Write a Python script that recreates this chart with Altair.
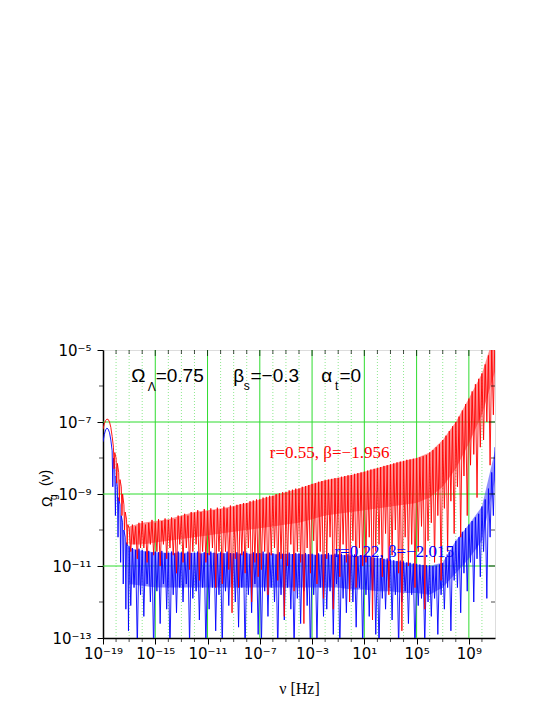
import altair as alt
import pandas as pd

# ---------------- data (log10 values) ----------------
# steep low-frequency part, (log10 nu, log10 Omega)
red_head_x = [-19.0, -18.9, -18.8, -18.7, -18.6, -18.5, -18.4, -18.3, -18.2, -18.15, -18.1, -18.0, -17.95,
              -17.9, -17.8, -17.75, -17.7, -17.6, -17.55, -17.5, -17.4, -17.35, -17.3, -17.2, -17.15, -17.1]
red_head_y = [-7.20, -7.05, -6.96, -6.92, -6.93, -7.0, -7.15, -7.4, -7.7, -8.3, -7.85, -8.0, -8.7,
              -8.15, -8.4, -9.2, -8.6, -8.8, -9.6, -9.0, -9.3, -10.0, -9.5, -9.7, -10.4, -9.85]
blue_head_x = [-19.0, -18.9, -18.8, -18.7, -18.6, -18.5, -18.4, -18.3, -18.25, -18.2, -18.1, -18.05, -18.0,
               -17.9, -17.85, -17.8, -17.7, -17.65, -17.6, -17.5, -17.45, -17.4, -17.3, -17.25, -17.2, -17.1, -17.05]
blue_head_y = [-7.55, -7.35, -7.22, -7.17, -7.2, -7.3, -7.5, -7.8, -8.8, -8.0, -8.3, -9.6, -8.5,
               -8.8, -10.2, -9.1, -9.3, -10.9, -9.6, -9.8, -11.5, -10.0, -10.2, -12.2, -10.35, -10.45, -12.8]

# oscillating part: per decade (starting at 10^-17), 8 samples each 1/8 decade apart (peak, dip, ...)
decades = list(range(-17, 11))
red_osc = [
    [-9.95, -10.6, -9.85, -10.4, -9.9, -10.8, -9.8, -10.5],
    [-9.75, -10.5, -9.85, -10.9, -9.8, -10.4, -9.72, -10.7],
    [-9.8, -10.6, -9.7, -11.0, -9.75, -10.4, -9.68, -10.8],
    [-9.72, -10.5, -9.65, -10.7, -9.7, -11.2, -9.6, -10.4],
    [-9.62, -10.9, -9.55, -10.5, -9.6, -11.1, -9.5, -10.6],
    [-9.52, -10.4, -9.45, -11.4, -9.5, -10.6, -9.42, -10.9],
    [-9.48, -10.7, -9.4, -10.5, -9.45, -11.6, -9.38, -10.6],
    [-9.42, -11.5, -9.35, -10.6, -9.4, -11.1, -9.32, -12.3],
    [-9.35, -10.8, -9.3, -11.6, -9.28, -10.7, -9.25, -11.2],
    [-9.25, -10.5, -9.2, -12.0, -9.18, -10.9, -9.15, -11.3],
    [-9.15, -11.1, -9.1, -10.6, -9.08, -11.8, -9.05, -10.7],
    [-9.05, -10.5, -9.0, -11.4, -8.98, -10.8, -8.95, -12.4],
    [-8.95, -11.0, -8.9, -10.4, -8.88, -11.7, -8.85, -10.6],
    [-8.85, -10.9, -8.8, -12.6, -8.78, -10.5, -8.75, -11.2],
    [-8.72, -10.3, -8.7, -11.5, -8.66, -10.6, -8.64, -11.9],
    [-8.62, -10.8, -8.6, -10.2, -8.58, -12.2, -8.56, -10.7],
    [-8.55, -11.3, -8.52, -10.4, -8.5, -10.9, -8.48, -12.0],
    [-8.47, -10.3, -8.44, -11.6, -8.42, -10.5, -8.4, -11.0],
    [-8.38, -10.9, -8.35, -10.2, -8.32, -12.5, -8.3, -10.6],
    [-8.28, -10.4, -8.25, -11.3, -8.22, -10.1, -8.2, -11.8],
    [-8.18, -10.7, -8.15, -10.0, -8.12, -11.2, -8.1, -12.8],
    [-8.08, -10.2, -8.05, -11.0, -8.04, -10.4, -8.02, -11.6],
    [-8.0, -10.6, -7.98, -9.9, -7.95, -12.2, -7.92, -10.3],
    [-7.85, -9.8, -7.78, -10.9, -7.7, -9.6, -7.62, -11.4],
    [-7.5, -9.4, -7.38, -10.6, -7.25, -9.2, -7.12, -10.1],
    [-7.0, -8.8, -6.85, -10.2, -6.68, -8.5, -6.5, -9.6],
    [-6.35, -8.2, -6.15, -7.9, -5.95, -9.1, -5.8, -7.7],
    [-5.65, -7.5, -5.4, -7.0, -5.15, -8.2, -4.9, -6.8],
]
blue_osc = [
    [-10.45, -12.1, -10.5, -11.6, -10.55, -13.3, -10.52, -11.8],
    [-10.55, -12.4, -10.6, -11.5, -10.58, -12.0, -10.62, -13.4],
    [-10.6, -11.7, -10.62, -12.6, -10.58, -11.5, -10.64, -12.2],
    [-10.63, -13.5, -10.6, -11.8, -10.65, -12.3, -10.6, -11.6],
    [-10.62, -12.0, -10.66, -11.5, -10.6, -13.2, -10.64, -11.9],
    [-10.63, -11.7, -10.6, -12.5, -10.66, -11.6, -10.62, -13.4],
    [-10.64, -12.2, -10.6, -11.6, -10.63, -12.8, -10.67, -11.8],
    [-10.62, -13.3, -10.65, -11.7, -10.6, -12.1, -10.64, -11.5],
    [-10.65, -12.0, -10.62, -12.7, -10.66, -11.6, -10.6, -13.5],
    [-10.63, -11.8, -10.67, -12.3, -10.62, -11.5, -10.65, -12.9],
    [-10.64, -13.2, -10.6, -11.7, -10.66, -12.4, -10.63, -11.6],
    [-10.65, -12.0, -10.68, -13.4, -10.62, -11.8, -10.66, -12.5],
    [-10.66, -11.6, -10.63, -12.2, -10.67, -13.3, -10.64, -11.9],
    [-10.65, -12.6, -10.68, -11.7, -10.64, -12.1, -10.67, -13.5],
    [-10.66, -11.8, -10.7, -13.2, -10.65, -11.6, -10.68, -12.4],
    [-10.67, -12.2, -10.64, -11.7, -10.69, -12.9, -10.66, -11.5],
    [-10.68, -13.4, -10.66, -11.9, -10.7, -12.3, -10.67, -11.7],
    [-10.7, -12.0, -10.68, -12.7, -10.72, -11.6, -10.7, -13.3],
    [-10.72, -11.8, -10.75, -12.4, -10.73, -11.7, -10.77, -12.9],
    [-10.76, -13.4, -10.78, -11.9, -10.8, -12.2, -10.79, -11.6],
    [-10.82, -12.5, -10.84, -11.8, -10.86, -13.3, -10.85, -12.0],
    [-10.87, -11.7, -10.9, -12.6, -10.91, -11.8, -10.93, -13.5],
    [-10.94, -12.1, -10.96, -11.9, -10.97, -13.2, -10.98, -12.0],
    [-10.98, -12.4, -11.0, -11.9, -10.99, -12.9, -10.96, -11.8],
    [-10.92, -12.2, -10.75, -11.6, -10.6, -12.8, -10.45, -11.4],
    [-10.3, -11.6, -10.2, -12.3, -10.05, -11.2, -9.95, -11.7],
    [-9.85, -10.9, -9.75, -12.0, -9.65, -10.8, -9.55, -11.3],
    [-9.35, -10.6, -9.15, -11.9, -8.85, -10.2, -8.4, -9.6],
]
red_tail = (11.0, -4.5)
blue_tail = (11.0, -7.7)

# dense (filled-looking) band of each curve, at decade starts 10^-17 ... 10^11
band_x = list(range(-17, 12))
red_band_top = [-9.9, -9.8, -9.75, -9.7, -9.6, -9.5, -9.45, -9.4, -9.33, -9.25, -9.15, -9.05, -8.95, -8.85,
                -8.72, -8.62, -8.55, -8.47, -8.38, -8.28, -8.18, -8.08, -8.0, -7.85, -7.5, -7.0, -6.35, -5.65, -4.5]
red_band_bot = [-10.4, -10.4, -10.35, -10.3, -10.25, -10.2, -10.15, -10.1, -10.05, -10.0, -9.95, -9.9, -9.85,
                -9.8, -9.7, -9.6, -9.55, -9.5, -9.45, -9.4, -9.35, -9.3, -9.25, -9.1, -8.8, -8.3, -7.6, -6.8, -5.6]
blue_band_top = [-10.5, -10.58, -10.62, -10.63, -10.63, -10.63, -10.64, -10.64, -10.65, -10.65, -10.65, -10.66,
                 -10.67, -10.67, -10.68, -10.68, -10.69, -10.71, -10.74, -10.78, -10.84, -10.9, -10.96, -11.0,
                 -10.9, -10.3, -9.85, -9.35, -7.8]
blue_band_bot = [-11.5, -11.55, -11.6, -11.6, -11.6, -11.6, -11.6, -11.6, -11.6, -11.6, -11.6, -11.6, -11.6,
                 -11.6, -11.6, -11.6, -11.6, -11.65, -11.65, -11.7, -11.7, -11.75, -11.75, -11.8, -11.6, -11.2,
                 -10.8, -10.3, -8.6]

# axis ticks (log10 exponents)
x_major = [-19, -15, -11, -7, -3, 1, 5, 9]
x_all = list(range(-18, 11))
y_major = [-13, -11, -9, -7, -5]
y_minor = [-12, -10, -8, -6]

# annotations
top_text = ["Ω", "=0.75", "β", "=−0.3", "α", "=0"]
top_x = [-16.83, -14.97, -9.03, -7.71, -2.30, -0.90]
top_y = [-5.88, -5.88, -5.88, -5.88, -5.88, -5.88]
sub_text = ["Λ", "s", "t"]
sub_x = [-15.58, -8.22, -1.25]
sub_y = [-6.14, -6.1, -6.1]
red_label = ("r=0.55, β=−1.956", -6.23, -8.01)
blue_label = ("r=0.22, β=−2.015", -1.29, -10.76)
ytitle_text = ["Ω", "(ν)"]
ytitle_x = [-22.92, -23.07]
ytitle_y = [-9.36, -8.78]
ysub = ("g", -22.54, -9.17)


# ---------------- build tables ----------------
def curve(head_x, head_y, osc, tail):
    lx = list(head_x)
    ly = list(head_y)
    for d, vals in zip(decades, osc):
        for i, v in enumerate(vals):
            lx.append(d + i / 8)
            ly.append(v)
    lx.append(tail[0])
    ly.append(tail[1])
    return pd.DataFrame({"nu": [10.0 ** v for v in lx], "omega": [10.0 ** v for v in ly]})


def band(top, bot):
    return pd.DataFrame({"nu": [10.0 ** v for v in band_x],
                         "top": [10.0 ** v for v in top], "bot": [10.0 ** v for v in bot]})


red_df = curve(red_head_x, red_head_y, red_osc, red_tail)
blue_df = curve(blue_head_x, blue_head_y, blue_osc, blue_tail)
red_band = band(red_band_top, red_band_bot)
blue_band = band(blue_band_top, blue_band_bot)

SUP = str.maketrans("-0123456789", "⁻⁰¹²³⁴⁵⁶⁷⁸⁹")


def label_expr(exps):
    parts = []
    for k in exps[:-1]:
        parts.append(f"datum.value < {10.0 ** (k + 0.5):.3g} ? '10{str(k).translate(SUP)}' : ")
    return "".join(parts) + f"'10{str(exps[-1]).translate(SUP)}'"


xs = alt.Scale(type="log", domain=[1e-19, 1e11], nice=False)
ys = alt.Scale(type="log", domain=[1e-13, 1e-5], nice=False)

SANS = "Liberation Sans"
LABF = "DejaVu Sans"
SERIF = "Liberation Serif"
GREEN = "#2fdc2f"

minor_v = pd.DataFrame({"nu": [10.0 ** k for k in x_all if k not in x_major]})
major_v = pd.DataFrame({"nu": [10.0 ** k for k in x_major if k > -19]})
major_h = pd.DataFrame({"omega": [10.0 ** k for k in y_major if -13 < k < -5]})

grid_minor = alt.Chart(minor_v).mark_rule(color="#8fe88f", strokeWidth=1, strokeDash=[1, 2]).encode(
    x=alt.X("nu:Q", scale=xs))
grid_major = alt.Chart(major_v).mark_rule(color=GREEN, strokeWidth=1).encode(x=alt.X("nu:Q", scale=xs))
grid_h = alt.Chart(major_h).mark_rule(color=GREEN, strokeWidth=1).encode(y=alt.Y("omega:Q", scale=ys))

blue_area = alt.Chart(blue_band).mark_area(color="#4646ff", opacity=0.6, clip=True).encode(
    x=alt.X("nu:Q", scale=xs), y=alt.Y("top:Q", scale=ys), y2="bot:Q")
red_area = alt.Chart(red_band).mark_area(color="#ff4646", opacity=0.6, clip=True).encode(
    x=alt.X("nu:Q", scale=xs), y=alt.Y("top:Q", scale=ys), y2="bot:Q")

blue_line = alt.Chart(blue_df).mark_line(color="#0000ff", strokeWidth=0.9, clip=True).encode(
    x=alt.X("nu:Q", scale=xs,
            axis=alt.Axis(values=[10.0 ** k for k in x_major], labelExpr=label_expr(x_major),
                          tickSize=6, tickColor="black", tickWidth=1, domainColor="black", domainWidth=1.5,
                          grid=False, labelFont=LABF, labelFontSize=15, labelColor="black", labelPadding=2,
                          labelFlush=False, labelOverlap=False,
                          title="ν  [Hz]", titleFont=SERIF, titleFontSize=16, titleFontWeight="normal",
                          titleColor="black", titleY=55, titleBaseline="alphabetic")),
    y=alt.Y("omega:Q", scale=ys,
            axis=alt.Axis(values=[10.0 ** k for k in y_major], labelExpr=label_expr(y_major),
                          tickSize=6, tickColor="black", tickWidth=1, domainColor="black", domainWidth=1.5,
                          grid=False, labelFont=LABF, labelFontSize=15, labelColor="black", labelPadding=6,
                          labelFlush=False, labelOverlap=False, title=None)),
)
red_line = alt.Chart(red_df).mark_line(color="#ff0000", strokeWidth=0.9, clip=True).encode(
    x=alt.X("nu:Q", scale=xs), y=alt.Y("omega:Q", scale=ys))

# extra ticks (minor outward on bottom/left, inward on top/right)
top_major = pd.DataFrame({"nu": [10.0 ** k for k in x_major if k > -19]})
right_major = pd.DataFrame({"omega": [10.0 ** k for k in y_major if -13 < k < -5]})
right_minor = pd.DataFrame({"omega": [10.0 ** k for k in y_minor]})

t1 = alt.Chart(top_major).mark_tick(orient="vertical", size=6, thickness=1, color="black", yOffset=3).encode(
    x=alt.X("nu:Q", scale=xs), y=alt.datum(1e-5))
t2 = alt.Chart(minor_v).mark_tick(orient="vertical", size=4, thickness=1, color="black", yOffset=2).encode(
    x=alt.X("nu:Q", scale=xs), y=alt.datum(1e-5))
t3 = alt.Chart(minor_v).mark_tick(orient="vertical", size=4, thickness=1, color="black", yOffset=2).encode(
    x=alt.X("nu:Q", scale=xs), y=alt.datum(1e-13))
t4 = alt.Chart(right_major).mark_tick(orient="horizontal", size=6, thickness=1, color="black", xOffset=-3).encode(
    y=alt.Y("omega:Q", scale=ys), x=alt.datum(1e11))
t5 = alt.Chart(right_minor).mark_tick(orient="horizontal", size=4, thickness=1, color="black", xOffset=-2).encode(
    y=alt.Y("omega:Q", scale=ys), x=alt.datum(1e11))
t6 = alt.Chart(right_minor).mark_tick(orient="horizontal", size=4, thickness=1, color="black", xOffset=-2).encode(
    y=alt.Y("omega:Q", scale=ys), x=alt.datum(1e-19))

# annotations
top_df = pd.DataFrame({"nu": [10.0 ** v for v in top_x], "omega": [10.0 ** v for v in top_y], "t": top_text})
sub_df = pd.DataFrame({"nu": [10.0 ** v for v in sub_x], "omega": [10.0 ** v for v in sub_y], "t": sub_text})
lab_df = pd.DataFrame({"nu": [10.0 ** red_label[1], 10.0 ** blue_label[1]],
                       "omega": [10.0 ** red_label[2], 10.0 ** blue_label[2]],
                       "t": [red_label[0], blue_label[0]], "c": ["#ff0000", "#0000ff"]})
yt_df = pd.DataFrame({"nu": [10.0 ** v for v in ytitle_x], "omega": [10.0 ** v for v in ytitle_y], "t": ytitle_text})
ys_df = pd.DataFrame({"nu": [10.0 ** ysub[1]], "omega": [10.0 ** ysub[2]], "t": [ysub[0]]})

enc = dict(x=alt.X("nu:Q", scale=xs), y=alt.Y("omega:Q", scale=ys), text="t:N")
a1 = alt.Chart(top_df).mark_text(font=SANS, fontSize=19, align="left", baseline="alphabetic", color="black").encode(**enc)
a2 = alt.Chart(sub_df).mark_text(font=SANS, fontSize=12, align="left", baseline="alphabetic", color="black").encode(**enc)
a3 = alt.Chart(lab_df).mark_text(font=SERIF, fontSize=17, align="left", baseline="alphabetic").encode(
    color=alt.Color("c:N", scale=None), **enc)
a4 = alt.Chart(yt_df).mark_text(font=SANS, fontSize=14, align="left", baseline="alphabetic", angle=270,
                                color="black").encode(**enc)
a5 = alt.Chart(ys_df).mark_text(font=SANS, fontSize=10, align="left", baseline="alphabetic", angle=270,
                                color="black").encode(**enc)

chart = alt.layer(
    grid_minor, grid_major, grid_h, blue_area, blue_line, red_area, red_line,
    t1, t2, t3, t4, t5, t6, a1, a2, a3, a4, a5
).properties(
    width=392, height=288,
    autosize=alt.AutoSizeParams(type="none"),
    padding={"left": 95, "top": 342, "right": 42, "bottom": 67},
).configure_view(stroke="black", strokeWidth=1.5).configure(background="white")

chart.save("out.html", embed_options={"renderer": "svg", "actions": False})
